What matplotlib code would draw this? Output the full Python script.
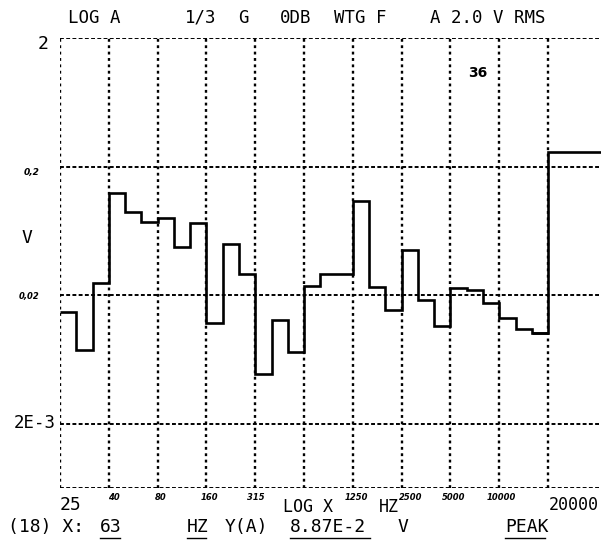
import numpy as np
import matplotlib
matplotlib.use('Agg')
import matplotlib.pyplot as plt
from matplotlib.lines import Line2D

# 1/3 octave bands 25 Hz .. 20 kHz, level in V
bands = ['25', '31.5', '40', '50', '63', '80', '100', '125', '160', '200',
         '250', '315', '400', '500', '630', '800', '1000', '1250', '1600', '2000',
         '2500', '3150', '4000', '5000', '6300', '8000', '10000', '12500', '16000', '20000']
level = [0.0148, 0.0075, 0.0248, 0.124, 0.0887, 0.0747, 0.0799, 0.047, 0.0734, 0.0121,
         0.0501, 0.0293, 0.0049, 0.0129, 0.0072, 0.0234, 0.0293, 0.0293, 0.107, 0.023,
         0.0154, 0.0451, 0.0184, 0.0116, 0.0227, 0.0218, 0.0174, 0.0133, 0.0109, 0.0102]
total_level = 0.26

ytick_vals = [2, 0.2, 0.02, 2e-3]
xlab_idx = [3, 6, 9, 12, 18, 21, 24, 27]
xlab_txt = ['40', '80', '160', '315', '1250', '2500', '5000', '10000']
xlab_dx = [5, 3, 3, 1, 4, 9, 3, 2]

W, H = 601, 546
fig = plt.figure(figsize=(W / 100, H / 100), dpi=100)
ax = fig.add_axes([60 / W, 1 - 488 / H, 1 - 60 / W, 450 / H])

ymin, ymax = 2 / 10 ** 3.5, 2
ax.set_yscale('log')
ax.set_xlim(0, 541 / 16.27)
ax.set_ylim(ymin, ymax)
for s in ax.spines.values():
    s.set_visible(False)
ax.set_xticks([])
ax.set_yticks([])
ax.minorticks_off()

dot = dict(color='black', lw=1.7, ls=(0, (1.2, 1.5)), zorder=1)
for x in range(0, 31, 3):
    ax.axvline(x, **dot)
for y in ytick_vals + [ymin]:
    ax.axhline(y, color='black', lw=1.4, ls=(0, (2.0, 1.2)), zorder=1)

edges = np.arange(len(bands) + 1)
ax.stairs(level, edges, baseline=None, color='black', lw=1.9, zorder=3)
ax.stairs([level[-1], total_level], [len(bands) - 1, len(bands), 34],
          baseline=None, color='black', lw=1.9, zorder=3)

mono = 'DejaVu Sans Mono'
def ftext(x, y, s, size=12, ha='left', **kw):
    fig.text(x / W, 1 - y / H, s, ha=ha, va='center', family=mono, fontsize=size, **kw)

def hand(x, y, s, size=6.5, ha='center'):
    fig.text(x / W, 1 - y / H, s, ha=ha, va='center', fontsize=size,
             style='italic', fontweight='bold', family='DejaVu Sans')

# header
ftext(68, 18, 'LOG A', size=12.5)
ftext(185, 18, '1/3', size=12.5)
ftext(238, 18, 'G', size=12.5)
ftext(280, 18, '0DB', size=12.5)
ftext(334, 18, 'WTG F', size=12.5)
ftext(430, 18, 'A 2.0 V RMS', size=12.5)

# y labels
ftext(38, 44, '2', size=13)
hand(32, 172, '0,2', size=6.5)
ftext(22, 238, 'V', size=13)
hand(29, 297, '0,02', size=6)
ftext(14, 423, '2E-3', size=12.5)
fig.text(478 / W, 1 - 73 / H, '36', fontsize=10, fontweight='bold', family='DejaVu Sans',
         ha='center', va='center')

# x labels
ftext(60, 505, '25', size=13)
for i, t, dx in zip(xlab_idx, xlab_txt, xlab_dx):
    hand(60 + 16.27 * i + dx, 498, t, size=6)
ftext(283, 507, 'LOG X', size=12)
ftext(379, 507, 'HZ', size=12)
ftext(549, 505, '20000', size=12)

# cursor readout
ftext(8, 527, '(18) X:', size=13)
ftext(100, 527, '63', size=13)
ftext(187, 527, 'HZ', size=13)
ftext(225, 527, 'Y(A)', size=13)
ftext(290, 527, '8.87E-2', size=13)
ftext(398, 527, 'V', size=13)
ftext(505, 527, 'PEAK', size=13)
for x0, x1 in [(100, 120), (187, 206), (290, 370), (505, 545)]:
    fig.add_artist(Line2D([x0 / W, x1 / W], [1 - 538 / H] * 2, color='black', lw=1))

fig.savefig('out.png', dpi=100)
